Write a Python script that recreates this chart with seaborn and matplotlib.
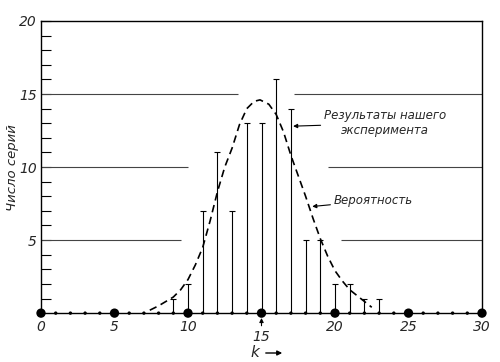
import matplotlib
matplotlib.use('Agg')
import matplotlib.pyplot as plt
import seaborn as sns
import numpy as np

# Data
k_values = [9, 10, 11, 12, 13, 14, 15, 16, 17, 18, 19, 20, 21, 22, 23]
series_counts = [1, 2, 7, 11, 7, 13, 13, 16, 14, 5, 5, 2, 2, 1, 1]

curve_k = [7.4, 8, 8.5, 9, 9.5, 10, 10.5, 11, 11.5, 12, 12.5, 13, 13.5, 14, 14.5,
           14.9, 15.5, 16, 16.5, 17, 17.5, 18, 18.5, 19, 19.5, 20, 20.5, 21, 21.5, 22, 22.5]
curve_p = [0.2, 0.5, 0.8, 1.1, 1.6, 2.3, 3.3, 4.5, 6.3, 8.3, 10.0, 11.3, 12.9, 14.0, 14.5,
           14.6, 14.3, 13.6, 12.4, 10.8, 9.4, 8.0, 6.5, 5.1, 3.9, 2.9, 2.2, 1.6, 1.2, 0.8, 0.4]

minor_k = list(range(0, 31))
major_k = [0, 5, 10, 15, 20, 25, 30]
x_labels = ['0', '5', '10', '', '20', '25', '30']
y_ticks = [5, 10, 15, 20]

sns.set_theme(style="white")
plt.rcParams['font.family'] = ['DejaVu Sans']

fig = plt.figure(figsize=(5, 3.62), dpi=100)
ax = fig.add_axes([0.082, 0.135, 0.882, 0.807])

# broken horizontal guide lines
ax.hlines([15, 15, 10, 10, 5, 5],
          [0, 17.2, 0, 19.5, 0, 20.4],
          [13.4, 30, 10.0, 30, 9.5, 30],
          color='#444444', lw=0.8)

# experiment bars with caps
ax.vlines(k_values, 0, series_counts, color='black', lw=0.8)
ax.plot(k_values, series_counts, '_', color='black', ms=5, mew=0.8)

# probability curve
sns.lineplot(x=curve_k, y=curve_p, ax=ax, color='black', lw=1.2,
             linestyle=(0, (4.5, 2.8)))

# dots on axis
sns.scatterplot(x=minor_k, y=[0] * len(minor_k), ax=ax, color='black', s=6,
                edgecolor='none', zorder=5)
sns.scatterplot(x=major_k, y=[0] * len(major_k), ax=ax, color='black', s=45,
                edgecolor='none', zorder=6)
for c in ax.collections[-2:]:
    c.set_clip_on(False)

ax.set_xlim(0, 30)
ax.set_ylim(0, 20)

for side in ['left', 'right', 'top', 'bottom']:
    ax.spines[side].set_color('black')
    ax.spines[side].set_linewidth(1.0)

ax.set_xticks(major_k)
ax.set_xticklabels(x_labels, fontstyle='italic', fontsize=10)
ax.tick_params(axis='x', length=0, pad=5)

ax.set_yticks(y_ticks)
ax.set_yticklabels([str(v) for v in y_ticks], fontstyle='italic', fontsize=10)
ax.set_yticks(range(1, 20), minor=True)
ax.tick_params(axis='y', which='both', direction='in', length=7, width=0.8,
               left=True, pad=3, color='black')

ax.set_ylabel('Число серий', fontstyle='italic', fontsize=9.5)
ax.yaxis.set_label_coords(-0.05, 0.5)

# 15 with arrow below axis
ax.annotate('15', xy=(15, 0), xycoords='data', xytext=(0, -17), textcoords='offset points',
            ha='center', va='center', fontstyle='italic', fontsize=10,
            arrowprops=dict(arrowstyle='-|>', color='black', lw=0.8,
                            mutation_scale=6, shrinkA=0.5, shrinkB=3.5))

# k axis label with arrow
fig.text(0.51, 0.026, 'k', fontstyle='italic', fontsize=11, ha='center', va='center')
ax.annotate('', xy=(285, 9), xycoords='figure pixels', xytext=(263, 9),
            textcoords='figure pixels',
            arrowprops=dict(arrowstyle='-|>', color='black', lw=1.0, mutation_scale=7))

# annotations
ax.annotate('Результаты нашего\nэксперимента', xy=(17.15, 12.8), xytext=(23.4, 13.0),
            ha='center', va='center', fontstyle='italic', fontsize=8.5,
            multialignment='center',
            arrowprops=dict(arrowstyle='-|>', color='black', lw=0.8,
                            mutation_scale=6, shrinkA=42, shrinkB=0))
ax.annotate('Вероятность', xy=(18.45, 7.3), xytext=(22.6, 7.7),
            ha='center', va='center', fontstyle='italic', fontsize=8.5,
            arrowprops=dict(arrowstyle='-|>', color='black', lw=0.8,
                            mutation_scale=6, shrinkA=28, shrinkB=0))

fig.savefig('out.png', dpi=100)
